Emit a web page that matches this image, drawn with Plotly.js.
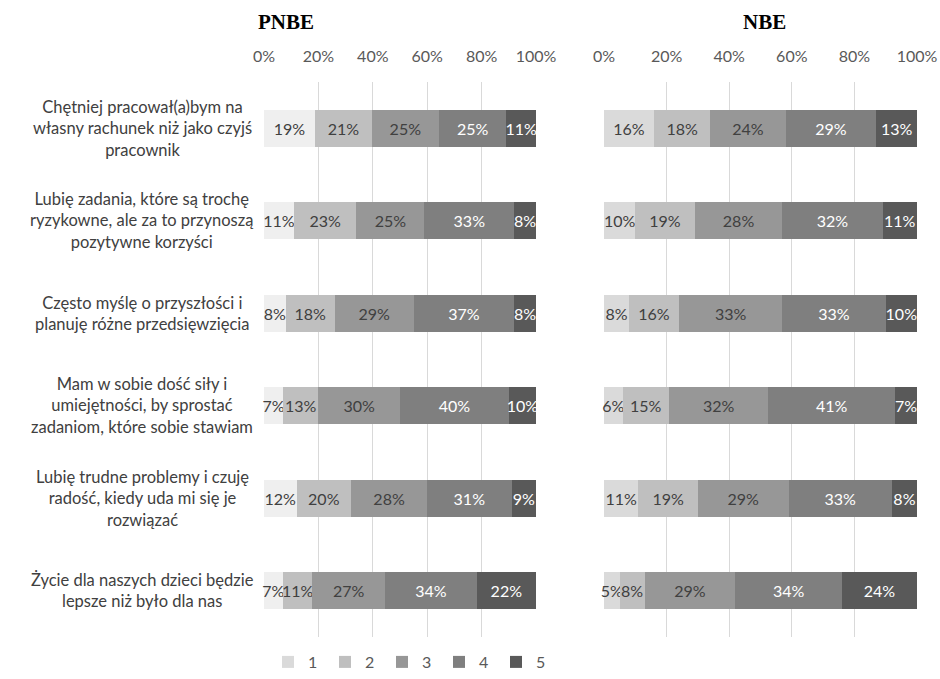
<!DOCTYPE html>
<html>
<head>
<meta charset="utf-8">
<script src="https://cdn.plot.ly/plotly-3.0.1.min.js"></script>
<style>html,body{margin:0;padding:0;background:#fff;}#chart{width:940px;height:679px;}</style>
</head>
<body>
<div id="chart"></div>
<script>
const categories = [
  "Chętniej pracował(a)bym na<br>własny rachunek niż jako czyjś<br>pracownik",
  "Lubię zadania, które są trochę<br>ryzykowne, ale za to przynoszą<br>pozytywne korzyści",
  "Często myślę o przyszłości i<br>planuję różne przedsięwzięcia",
  "Mam w sobie dość siły i<br>umiejętności, by sprostać<br>zadaniom, które sobie stawiam",
  "Lubię trudne problemy i czuję<br>radość, kiedy uda mi się je<br>rozwiązać",
  "Życie dla naszych dzieci będzie<br>lepsze niż było dla nas"
];
const seriesNames = ["1", "2", "3", "4", "5"];
const tickVals = [0, 20, 40, 60, 80, 100];
const tickText = ["0%", "20%", "40%", "60%", "80%", "100%"];

// PNBE values per answer level (rows = categories)
const pnbe1 = [19, 11, 8, 7, 12, 7];
const pnbe2 = [21, 23, 18, 13, 20, 11];
const pnbe3 = [25, 25, 29, 30, 28, 27];
const pnbe4 = [25, 33, 37, 40, 31, 34];
const pnbe5 = [11, 8, 8, 10, 9, 22];

// NBE values
const nbe1 = [16, 10, 8, 6, 11, 5];
const nbe2 = [18, 19, 16, 15, 19, 8];
const nbe3 = [24, 28, 33, 32, 29, 29];
const nbe4 = [29, 32, 33, 41, 33, 34];
const nbe5 = [13, 11, 10, 7, 8, 24];

const pnbeSeries = [pnbe1, pnbe2, pnbe3, pnbe4, pnbe5];
const nbeSeries = [nbe1, nbe2, nbe3, nbe4, nbe5];

const colorsP = ["#efefef", "#bfbfbf", "#979797", "#7f7f7f", "#595959"];
const colorsN = ["#dadada", "#bfbfbf", "#979797", "#7f7f7f", "#595959"];
const textColors = ["#404040", "#404040", "#404040", "#ffffff", "#ffffff"];

const FONT = "Lato, 'Open Sans', sans-serif";
const traces = [];
function addTraces(series, colors, xa, ya, showLegend) {
  series.forEach((vals, i) => {
    traces.push({
      type: "bar",
      orientation: "h",
      name: seriesNames[i],
      legendgroup: seriesNames[i],
      showlegend: showLegend,
      x: vals,
      y: categories,
      xaxis: xa,
      yaxis: ya,
      marker: {color: colors[i], line: {width: 0}},
      text: vals.map(v => v + "%"),
      textposition: "inside",
      insidetextanchor: "middle",
      textangle: 0,
      cliponaxis: false,
      textfont: {family: FONT, size: 16, color: textColors[i]},
      hoverinfo: "skip"
    });
  });
}
addTraces(pnbeSeries, colorsP, "x", "y", false);
addTraces(nbeSeries, colorsN, "x2", "y2", true);

const yTop = 1 - 82 / 679, yBot = 1 - 639 / 679;
const xAxisBase = {
  side: "top",
  range: [0, 100],
  tickvals: tickVals,
  ticktext: tickText,
  showgrid: true,
  gridcolor: "#d9d9d9",
  gridwidth: 1,
  zeroline: false,
  showline: false,
  ticks: "outside",
  ticklen: 12,
  tickcolor: "rgba(0,0,0,0)",
  tickfont: {family: FONT, size: 16, color: "#595959"},
  fixedrange: true
};
const yAxisBase = {
  type: "category",
  autorange: "reversed",
  showticklabels: false,
  showgrid: false,
  zeroline: false,
  domain: [yBot, yTop],
  fixedrange: true
};

const annotations = categories.map(c => ({
  xref: "paper", yref: "y", x: 142 / 940, y: c,
  text: c, showarrow: false, xanchor: "center", yanchor: "middle", align: "center",
  font: {family: FONT, size: 16.5, color: "#404040"}
}));
annotations.push({
  xref: "paper", yref: "paper", x: 286 / 940, y: 1 - 22 / 679, text: "<b>PNBE</b>",
  showarrow: false, xanchor: "center", yanchor: "middle",
  font: {family: "'Liberation Serif', 'Times New Roman', serif", size: 21, color: "#000"}
});
annotations.push({
  xref: "paper", yref: "paper", x: 764 / 940, y: 1 - 22 / 679, text: "<b>NBE</b>",
  showarrow: false, xanchor: "center", yanchor: "middle",
  font: {family: "'Liberation Serif', 'Times New Roman', serif", size: 21, color: "#000"}
});

const layout = {
  width: 940, height: 679,
  margin: {l: 0, r: 0, t: 0, b: 0},
  paper_bgcolor: "#fff", plot_bgcolor: "rgba(0,0,0,0)",
  barmode: "stack",
  barnorm: "percent",
  bargap: 0.6,
  uniformtext: {mode: "show", minsize: 16},
  xaxis: Object.assign({}, xAxisBase, {domain: [264 / 940, 536 / 940], anchor: "y"}),
  yaxis: Object.assign({}, yAxisBase, {anchor: "x"}),
  xaxis2: Object.assign({}, xAxisBase, {domain: [604 / 940, 917 / 940], anchor: "y2"}),
  yaxis2: Object.assign({}, yAxisBase, {anchor: "x2"}),
  showlegend: true,
  legend: {
    orientation: "h",
    x: 268 / 940, xanchor: "left",
    y: 1 - 647 / 679, yanchor: "top",
    traceorder: "normal",
    entrywidth: 12, entrywidthmode: "pixels",
    font: {family: FONT, size: 16, color: "#595959"},
    bgcolor: "rgba(0,0,0,0)"
  },
  annotations: annotations
};

Plotly.newPlot("chart", traces, layout, {displayModeBar: false, staticPlot: true});
</script>
</body>
</html>
